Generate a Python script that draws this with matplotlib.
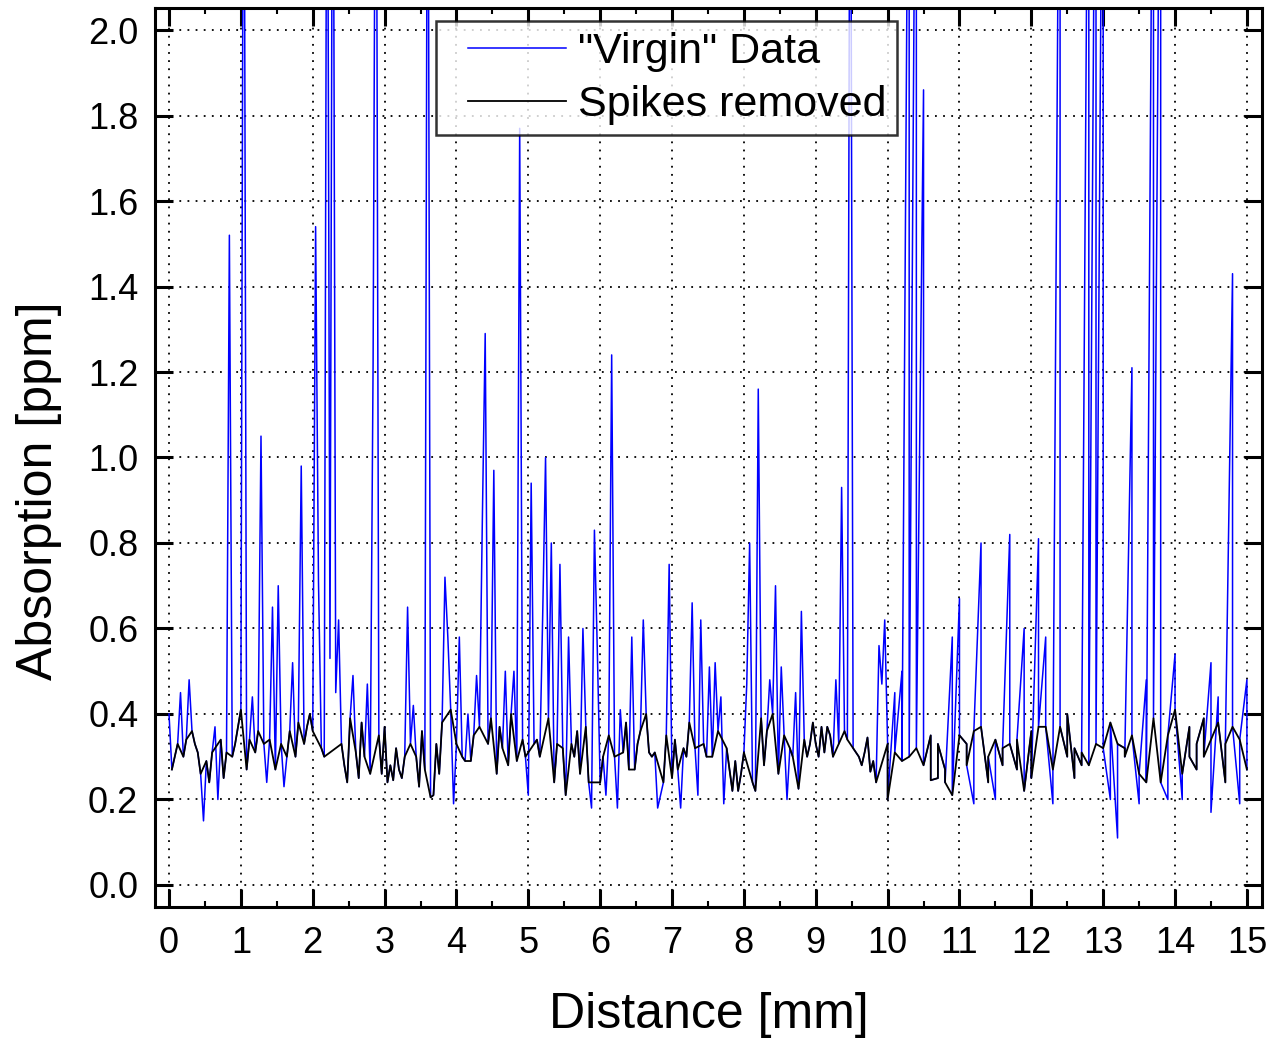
import numpy as np
import matplotlib.pyplot as plt
from matplotlib.legend_handler import HandlerLine2D

plt.rcParams['font.family'] = ['Liberation Sans', 'DejaVu Sans']

# "Virgin" scan from 0 to 9.96 mm, one reading every 0.04 mm (one list per mm)
mm0 = [0.40, 0.27, 0.30, 0.33, 0.45, 0.30, 0.34, 0.48, 0.36, 0.33, 0.31, 0.26, 0.15,
       0.29, 0.24, 0.31, 0.37, 0.20, 0.34, 0.25, 0.31, 1.52, 0.30, 0.33, 0.37]
mm1 = [0.41, 2.90, 0.27, 0.34, 0.44, 0.31, 0.36, 1.05, 0.33, 0.24, 0.34, 0.65, 0.27,
       0.70, 0.33, 0.23, 0.30, 0.36, 0.52, 0.30, 0.38, 0.98, 0.33, 0.37, 0.40]
mm2 = [0.36, 1.54, 0.71, 0.32, 0.30, 2.90, 0.53, 2.90, 0.45, 0.62, 0.33, 0.28, 0.24,
       0.39, 0.49, 0.31, 0.25, 0.38, 0.30, 0.47, 0.26, 1.22, 2.90, 0.35, 0.26]
mm3 = [0.37, 0.24, 0.28, 0.245, 0.32, 0.27, 0.25, 0.30, 0.65, 0.33, 0.42, 0.30, 0.23,
       0.36, 0.27, 2.90, 0.205, 0.21, 0.33, 0.26, 0.38, 0.72, 0.58, 0.41, 0.19]
mm4 = [0.33, 0.58, 0.30, 0.29, 0.40, 0.29, 0.35, 0.49, 0.37, 0.85, 1.29, 0.33, 0.39,
       0.97, 0.26, 0.37, 0.32, 0.50, 0.28, 0.40, 0.50, 0.29, 1.77, 0.34, 0.30]
mm5 = [0.21, 0.94, 0.33, 0.34, 0.30, 0.63, 1.00, 0.39, 0.80, 0.24, 0.33, 0.75, 0.32,
       0.21, 0.58, 0.33, 0.30, 0.36, 0.26, 0.60, 0.37, 0.24, 0.18, 0.83, 0.55]
mm6 = [0.24, 0.30, 0.21, 0.35, 1.24, 0.30, 0.18, 0.41, 0.31, 0.38, 0.27, 0.58, 0.27,
       0.33, 0.36, 0.62, 0.40, 0.31, 0.30, 0.31, 0.18, 0.21, 0.24, 0.35, 0.75]
mm7 = [0.25, 0.34, 0.27, 0.18, 0.32, 0.30, 0.38, 0.66, 0.32, 0.21, 0.62, 0.33, 0.30,
       0.51, 0.30, 0.52, 0.36, 0.44, 0.19, 0.32, 0.27, 0.22, 0.29, 0.22, 0.26]
mm8 = [0.31, 0.47, 0.80, 0.24, 0.22, 1.16, 0.39, 0.28, 0.36, 0.48, 0.40, 0.70, 0.26,
       0.51, 0.35, 0.20, 0.32, 0.30, 0.45, 0.225, 0.64, 0.34, 0.30, 0.33, 0.38]
mm9 = [0.33, 0.30, 0.37, 0.31, 0.37, 0.35, 0.30, 0.48, 0.33, 0.93, 0.36, 0.34, 2.90,
       0.32, 0.31, 0.30, 0.28, 0.31, 0.345, 0.265, 0.29, 0.24, 0.56, 0.47, 0.62]

# position (inside each mm list) of the readings flagged as spikes
spk0 = [0, 4, 7, 12, 16, 17, 21]
spk1 = [1, 4, 7, 9, 11, 13, 15, 18, 21]
spk2 = [1, 2, 5, 6, 7, 8, 9, 14, 19, 21, 22]
spk3 = [8, 10, 15, 21, 22, 24]
spk4 = [1, 4, 7, 9, 10, 13, 17, 20, 22]
spk5 = [0, 1, 5, 6, 8, 11, 14, 19, 22, 23, 24]
spk6 = [2, 4, 6, 7, 11, 15, 20, 21, 24]
spk7 = [3, 7, 9, 10, 13, 15, 17, 18]
spk8 = [1, 2, 5, 9, 11, 13, 15, 18, 20]
spk9 = [7, 9, 12, 22, 23, 24]

# 10 - 15 mm: two readings at every position, one position every 0.1 mm
b_first = [0.33, 0.45, 0.50, 2.90, 2.90, 1.86, 0.35, 0.25, 0.27, 0.58,
           0.67, 0.33, 0.19, 0.80, 0.24, 0.20, 0.28, 0.82, 0.27, 0.60,
           0.36, 0.81, 0.58, 0.19, 2.90, 0.30, 0.25, 0.28, 2.90, 2.90,
           2.90, 0.20, 0.11, 0.32, 1.21, 0.19, 0.48, 2.90, 2.90, 0.20,
           0.54, 0.20, 0.37, 0.27, 0.39, 0.52, 0.44, 0.24, 1.43, 0.19, 0.48]
b_second = [0.20, 0.31, 0.29, 0.30, 0.32, 0.28, 0.245, 0.33, 0.24, 0.21,
            0.35, 0.28, 0.36, 0.37, 0.30, 0.34, 0.32, 0.33, 0.34, 0.22,
            0.25, 0.37, 0.37, 0.27, 0.37, 0.40, 0.32, 0.31, 0.28, 0.33,
            0.32, 0.38, 0.33, 0.30, 0.35, 0.26, 0.24, 0.39, 0.24, 0.35,
            0.41, 0.26, 0.30, 0.33, 0.30, 0.17, 0.38, 0.33, 0.37, 0.34, 0.27]
b_first_spk = [1, 2, 3, 4, 5, 9, 10, 12, 13, 15, 17, 19, 21, 22, 23, 24, 28, 29, 30,
               31, 32, 34, 35, 36, 37, 38, 39, 40, 41, 45, 46, 48, 49, 50]
b_second_spk = [45]

# assemble the two scans
seg_a = [mm0, mm1, mm2, mm3, mm4, mm5, mm6, mm7, mm8, mm9]
spk_a = [spk0, spk1, spk2, spk3, spk4, spk5, spk6, spk7, spk8, spk9]
y_a = np.concatenate(seg_a)
x_a = np.arange(len(y_a)) * 0.04
keep_a = np.ones(len(y_a), bool)
for k, s in enumerate(spk_a):
    keep_a[np.array(s, int) + 25 * k] = False

y_b = np.column_stack([b_first, b_second]).ravel()
x_b = np.repeat(10 + np.arange(len(b_first)) * 0.1, 2)
keep_b = np.ones(len(y_b), bool)
keep_b[np.array(b_first_spk) * 2] = False
keep_b[np.array(b_second_spk) * 2 + 1] = False

x = np.concatenate([x_a, x_b])
y = np.concatenate([y_a, y_b])
keep = np.concatenate([keep_a, keep_b])

fig = plt.figure(figsize=(12.7, 10.38), dpi=100)
ax = fig.add_axes([155 / 1270, 1 - 907 / 1038, 1107 / 1270, 899 / 1038])

ax.plot(x, y, color='#0000ff', lw=1.1, label='"Virgin" Data')
ax.plot(x[keep], y[keep], color='black', lw=1.3, label='Spikes removed')

ax.set_xlim(-0.195, 15.21)
ax.set_ylim(-0.0515, 2.0515)
ax.set_xticks(np.arange(0, 16, 1))
ax.set_xticks(np.arange(0.5, 15.5, 1), minor=True)
ax.set_yticks(np.arange(0, 2.01, 0.2))
ax.set_yticklabels([f'{v:.1f}' for v in np.arange(0, 2.01, 0.2)])

ax.grid(True, which='major', color='black', linestyle=(0, (1, 3.5)), lw=1.3)
ax.tick_params(which='major', direction='in', length=13, width=2.2, labelsize=26,
               top=True, right=True)
ax.tick_params(which='minor', direction='in', length=4, width=1.5, top=True, right=True)
ax.tick_params(axis='y', which='major', pad=12)
ax.tick_params(axis='x', which='major', pad=14)
for sp in ax.spines.values():
    sp.set_linewidth(2.2)

ax.set_xlabel('Distance [mm]', fontsize=36, labelpad=22)
ax.set_ylabel('Absorption [ppm]', fontsize=36)
ax.yaxis.set_label_coords(-0.084, 0.4627)

hmap = {ln: HandlerLine2D(xpad=0.5) for ln in ax.get_lines()}
leg = ax.legend(loc='upper left', bbox_to_anchor=(0.2538, 0.9855), fontsize=31,
                frameon=True, fancybox=False, handlelength=2.76, handletextpad=0.28,
                labelspacing=0.3, borderpad=0.25, borderaxespad=0, handler_map=hmap)
leg.get_frame().set_edgecolor('black')
leg.get_frame().set_linewidth(1.8)

fig.savefig('out.png', dpi=100)
